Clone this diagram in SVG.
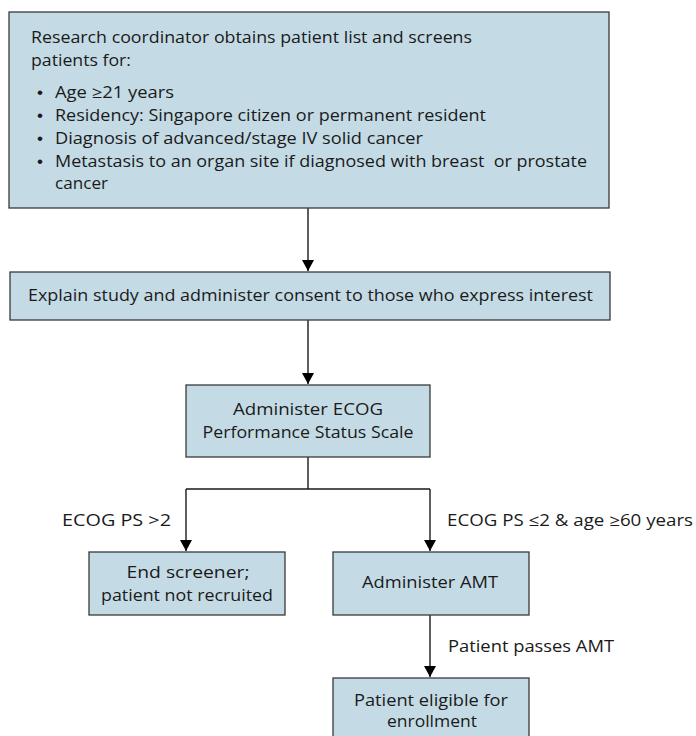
<svg xmlns="http://www.w3.org/2000/svg" width="696" height="736" viewBox="0 0 696 736">
<defs>
<style>
.box{fill:#c4dbe6;stroke:#3a3a3a;stroke-width:1.3}
.t{font-family:"Open Sans","Liberation Sans",sans-serif;font-size:16px;fill:#1a1a1a}
.b{font-family:"Liberation Sans",sans-serif;font-size:17px;fill:#1a1a1a}
.c{text-anchor:middle}
.con{fill:none;stroke:#1a1a1a;stroke-width:1.4}
</style>
<marker id="ah" markerUnits="userSpaceOnUse" markerWidth="12" markerHeight="12" refX="11" refY="6" orient="auto">
<path d="M0,0 L11,6 L0,12 z" fill="#000"/>
</marker>
</defs>
<rect width="696" height="736" fill="#fff"/>
<g id="connectors">
<path class="con" d="M308 208 V271" marker-end="url(#ah)"/>
<path class="con" d="M308 320 V384" marker-end="url(#ah)"/>
<path class="con" d="M308 457 V489 M186 489 H430"/>
<path class="con" d="M186 489 V551" marker-end="url(#ah)"/>
<path class="con" d="M430 489 V551" marker-end="url(#ah)"/>
<path class="con" d="M430 615 V677" marker-end="url(#ah)"/>
<text class="t" x="62" y="526" textLength="109" lengthAdjust="spacingAndGlyphs">ECOG PS &gt;2</text>
<text class="t" x="447" y="526" textLength="246" lengthAdjust="spacingAndGlyphs">ECOG PS ≤2 &amp; age ≥60 years</text>
<text class="t" x="448" y="652" textLength="166" lengthAdjust="spacingAndGlyphs">Patient passes AMT</text>
</g>
<g id="screen">
<rect class="box" x="9" y="12" width="600" height="196"/>
<text class="t" x="31" y="43" textLength="441" lengthAdjust="spacingAndGlyphs">Research coordinator obtains patient list and screens</text>
<text class="t" x="31" y="66" textLength="100" lengthAdjust="spacingAndGlyphs">patients for:</text>
<text class="b" x="37" y="98">•</text>
<text class="t" x="55" y="98" textLength="119" lengthAdjust="spacingAndGlyphs">Age ≥21 years</text>
<text class="b" x="37" y="121">•</text>
<text class="t" x="55" y="121" textLength="431" lengthAdjust="spacingAndGlyphs">Residency: Singapore citizen or permanent resident</text>
<text class="b" x="37" y="144">•</text>
<text class="t" x="55" y="144" textLength="368" lengthAdjust="spacingAndGlyphs">Diagnosis of advanced/stage IV solid cancer</text>
<text class="b" x="37" y="167">•</text>
<text class="t" x="55" y="167" textLength="532" lengthAdjust="spacingAndGlyphs" style="white-space:pre">Metastasis to an organ site if diagnosed with breast  or prostate</text>
<text class="t" x="55" y="189" textLength="53" lengthAdjust="spacingAndGlyphs">cancer</text>
</g>
<g id="consent">
<rect class="box" x="10" y="272" width="600" height="48"/>
<text class="t" x="28" y="301" textLength="565" lengthAdjust="spacingAndGlyphs">Explain study and administer consent to those who express interest</text>
</g>
<g id="ecog">
<rect class="box" x="186" y="385" width="244" height="72"/>
<text class="t c" x="308" y="415" textLength="150" lengthAdjust="spacingAndGlyphs">Administer ECOG</text>
<text class="t c" x="308" y="438" textLength="211" lengthAdjust="spacingAndGlyphs">Performance Status Scale</text>
</g>
<g id="end">
<rect class="box" x="89" y="552" width="196" height="63"/>
<text class="t c" x="188" y="578" textLength="123" lengthAdjust="spacingAndGlyphs">End screener;</text>
<text class="t c" x="187" y="601" textLength="172" lengthAdjust="spacingAndGlyphs">patient not recruited</text>
</g>
<g id="amt">
<rect class="box" x="333" y="552" width="196" height="63"/>
<text class="t c" x="430" y="588" textLength="136" lengthAdjust="spacingAndGlyphs">Administer AMT</text>
</g>
<g id="eligible">
<rect class="box" x="333" y="678" width="196" height="66"/>
<text class="t c" x="431" y="706" textLength="154" lengthAdjust="spacingAndGlyphs">Patient eligible for</text>
<text class="t c" x="432" y="727" textLength="90" lengthAdjust="spacingAndGlyphs">enrollment</text>
</g>
</svg>
